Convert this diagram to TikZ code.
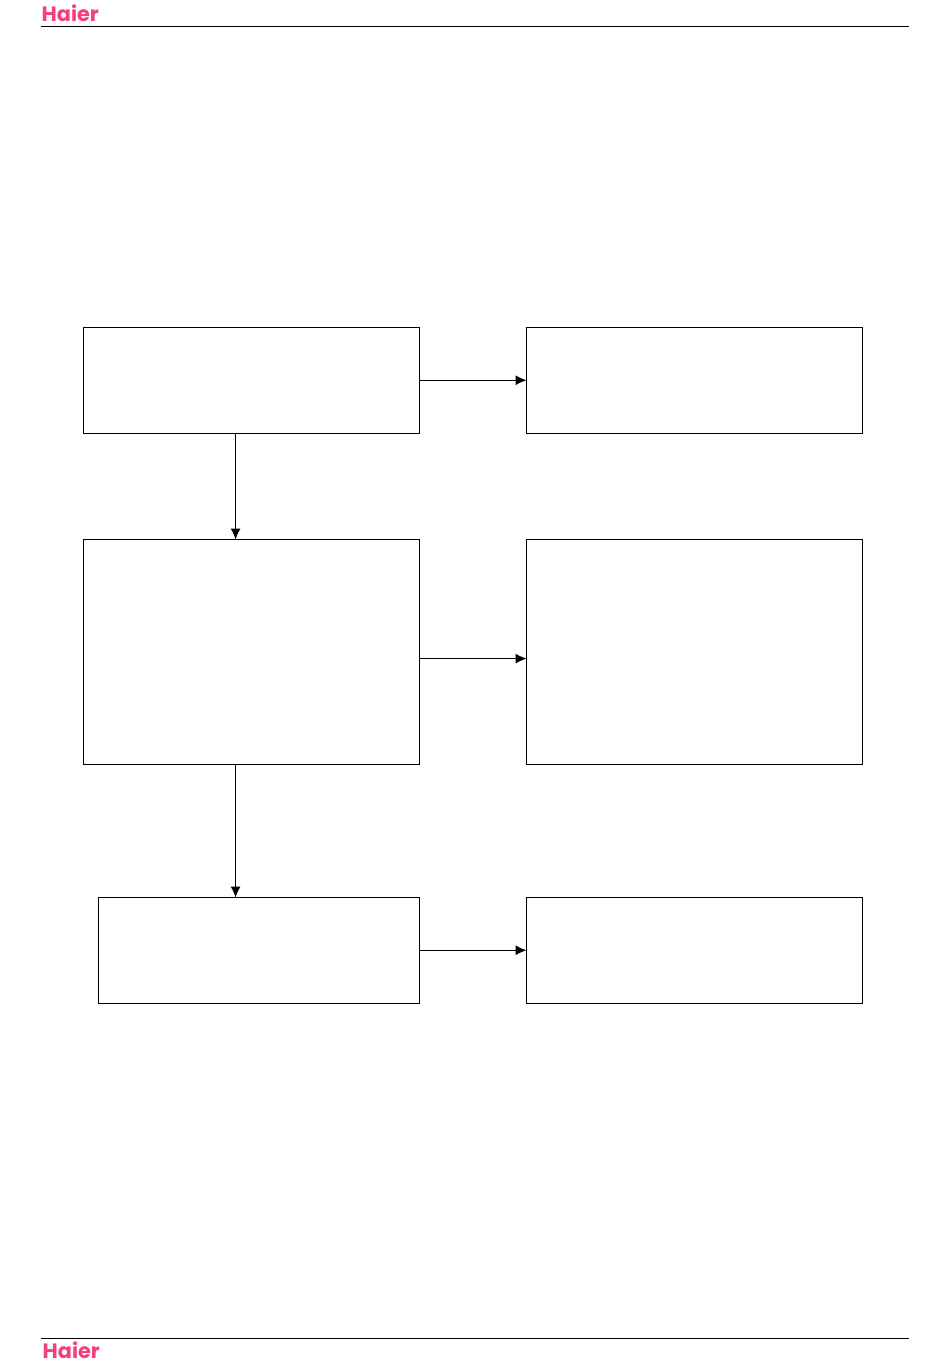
\documentclass[tikz,border=0pt]{standalone}
\usepackage{fontspec}
\setsansfont{Poppins}
\usetikzlibrary{arrows.meta}
\definecolor{haierpink}{RGB}{246,62,126}
\tikzset{
  flowbox/.style={draw=black, line width=1.1pt, inner sep=0pt, anchor=north west},
  flowarrow/.style={draw=black, line width=1pt, shorten >=-0.8pt, -{Latex[length=11pt,width=10pt]}},
  rulerline/.style={draw=black, line width=1.1pt},
  logotext/.style={text=haierpink, inner sep=0pt, anchor=base west, font=\fontsize{20.8}{24}\selectfont\sffamily\bfseries},
}

\begin{document}
\begin{tikzpicture}[x=1pt, y=-1pt]

  %% header and footer
  \node[logotext] (logotop) at (41.5,21.8) {Haier};
  \node[logotext] (logobottom) at (42.5,1358.5) {Haier};
  \draw[rulerline] (41,26.5) -- (909,26.5);
  \draw[rulerline] (41,1338.5) -- (909,1338.5);

  %% boxes, left column
  \node[flowbox, minimum width=336pt, minimum height=106pt] (boxa) at (82.7,326.7) {};
  \node[flowbox, minimum width=336pt, minimum height=225pt] (boxb) at (82.7,538.7) {};
  \node[flowbox, minimum width=321pt, minimum height=106pt] (boxc) at (97.7,896.7) {};

  %% boxes, right column
  \node[flowbox, minimum width=336pt, minimum height=106pt] (boxd) at (525.7,326.7) {};
  \node[flowbox, minimum width=336pt, minimum height=225pt] (boxe) at (525.7,538.7) {};
  \node[flowbox, minimum width=336pt, minimum height=106pt] (boxf) at (525.7,896.7) {};

  %% free levels of the connectors
  \coordinate (downline) at (235.6,0);
  \coordinate (midline) at (0,658.6);

  %% connectors
  \draw[flowarrow] (boxa) -- (boxd);
  \draw[flowarrow] (boxb.east |- midline) -- (boxe.west |- midline);
  \draw[flowarrow] (boxc.east) -- (boxf.west);
  \draw[flowarrow] (boxa.south -| downline) -- (boxb.north -| downline);
  \draw[flowarrow] (boxb.south -| downline) -- (boxc.north -| downline);

  \pgfresetboundingbox
  \path[use as bounding box] (0,0) rectangle (950,1370);
\end{tikzpicture}
\end{document}
